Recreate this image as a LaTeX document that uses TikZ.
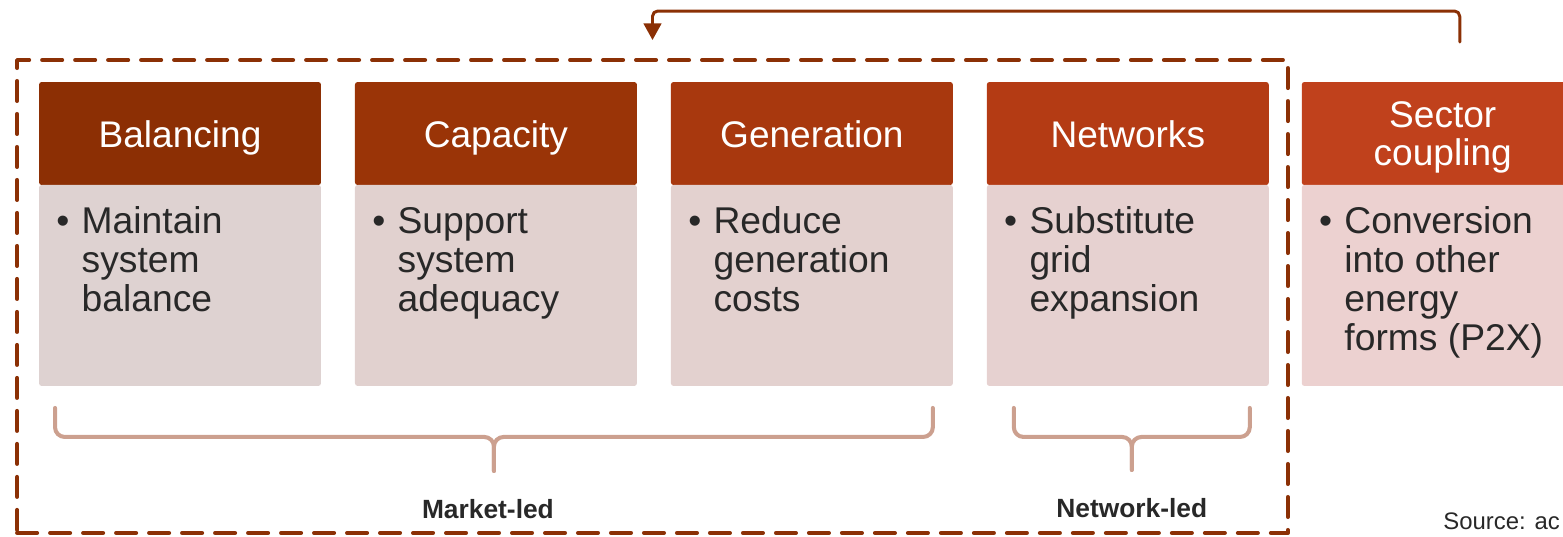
\documentclass[tikz,border=0pt]{standalone}
\usepackage{fontspec}
\setmainfont{Liberation Sans}
\usetikzlibrary{arrows.meta,positioning,calc}

% header fills, dark to light
\definecolor{hdA}{RGB}{140,47,4}
\definecolor{hdB}{RGB}{154,52,7}
\definecolor{hdC}{RGB}{168,56,14}
\definecolor{hdD}{RGB}{180,59,20}
\definecolor{hdE}{RGB}{192,65,28}
% body fills
\definecolor{bdA}{RGB}{222,210,209}
\definecolor{bdB}{RGB}{225,209,207}
\definecolor{bdC}{RGB}{227,209,207}
\definecolor{bdD}{RGB}{230,209,208}
\definecolor{bdE}{RGB}{236,209,208}
\definecolor{rust}{RGB}{139,48,5}
\definecolor{tan}{RGB}{204,160,143}
\definecolor{ink}{RGB}{40,40,40}

% bullet with hanging lines
\newcommand{\bulletlist}[1]{%
  \begin{tabular}{@{}l@{\hspace{7pt}}l@{}}\textbullet & #1\end{tabular}}

\tikzset{
  head/.style={fill=#1, text=white, inner sep=0pt, outer sep=0pt, align=center,
    minimum width=5.64cm, minimum height=2.06cm, rounded corners=1.5pt,
    font=\fontsize{21.1}{21.5}\selectfont},
  headline/.style={text height=16.5pt, text depth=0pt},
  body/.style={fill=#1, anchor=north, inner sep=0pt, outer sep=0pt,
    minimum width=5.64cm, minimum height=4.02cm, rounded corners=1.5pt},
  bullets/.style={anchor=north west, inner sep=0pt, text=ink,
    font=\fontsize{21.2}{22.1}\selectfont},
  brace/.style={draw=tan, line width=2.3pt, rounded corners=5.5pt},
  lbl/.style={text=ink, inner sep=0pt, font=\fontsize{15}{16}\selectfont\bfseries},
}

\begin{document}
\begin{tikzpicture}[
    x=0.02cm, y=-0.02cm,    % one unit per pixel, y running down
    line cap=round,
    line join=round,
    >=Latex,
    node distance=0.68cm
]

\useasboundingbox (0,0) rectangle (1563,537);

%-----------------------
% 1) HEADERS
%-----------------------
\node[head=hdA, headline] (bal-head) at (180,133.5) {Balancing};
\node[head=hdB, headline, right=of bal-head] (cap-head) {Capacity};
\node[head=hdC, headline, right=of cap-head] (gen-head) {Generation};
\node[head=hdD, headline, right=of gen-head] (net-head) {Networks};
\node[head=hdE, right=0.66cm of net-head] (sec-head) {\rule{0pt}{19.5pt}Sector\\coupling};

%-----------------------
% 2) BODIES
%-----------------------
\node[body=bdA] (bal-body) at (bal-head.south) {};
\node[body=bdB] (cap-body) at (cap-head.south) {};
\node[body=bdC] (gen-body) at (gen-head.south) {};
\node[body=bdD] (net-body) at (net-head.south) {};
\node[body=bdE] (sec-body) at (sec-head.south) {};

% bullet texts
\node[bullets, below right=0.42cm and 0.34cm of bal-body.north west] (bal-txt)
  {\bulletlist{Maintain\\&system\\&balance}};
\node[bullets, below right=0.42cm and 0.34cm of cap-body.north west] (cap-txt)
  {\bulletlist{Support\\&system\\&adequacy}};
\node[bullets, below right=0.42cm and 0.34cm of gen-body.north west] (gen-txt)
  {\bulletlist{Reduce\\&generation\\&costs}};
\node[bullets, below right=0.42cm and 0.34cm of net-body.north west] (net-txt)
  {\bulletlist{Substitute\\&grid\\&expansion}};
\node[bullets, below right=0.42cm and 0.34cm of sec-body.north west] (sec-txt)
  {\bulletlist{Conversion\\&into other\\&energy\\&forms (P2X)}};

%-----------------------
% 3) DASHED GROUP FRAME
%-----------------------
\node[draw=rust, line width=2.3pt, dash pattern=on 0.4cm off 0.26cm,
  minimum width=25.42cm, minimum height=9.46cm, inner sep=0pt] (grp) at (652.5,296.5) {};

% feedback from sector coupling back into the group
\coordinate (fb-from) at ($(sec-head.north)+(17,-40)$);
\coordinate (fb-to) at ($(grp.north)+(0,-18)$);
\draw[rust, line width=1.7pt, rounded corners=3pt, -{Triangle[width=10pt,length=9.5pt]}]
  (fb-from) -- ++(0,-31) -| (fb-to);

%-----------------------
% 4) BRACES AND LABELS
%-----------------------
\coordinate (mkt-l) at ($(bal-body.south west)+(16,22)$);
\coordinate (mkt-r) at ($(gen-body.south east)+(-20,22)$);
\coordinate (mkt-mid) at ($(mkt-l)!0.5!(mkt-r)+(0,29)$);
\coordinate (mkt-tip) at ($(mkt-mid)+(0,34)$);
\draw[brace] (mkt-l) |- (mkt-mid) -- (mkt-tip);
\draw[brace] (mkt-r) |- (mkt-mid) -- (mkt-tip);

\coordinate (net-l) at ($(net-body.south west)+(27,22)$);
\coordinate (net-r) at ($(net-body.south east)+(-19,22)$);
\coordinate (net-mid) at ($(net-l)!0.5!(net-r)+(0,29)$);
\coordinate (net-tip) at ($(net-mid)+(0,33)$);
\draw[brace] (net-l) |- (net-mid) -- (net-tip);
\draw[brace] (net-r) |- (net-mid) -- (net-tip);

\node[lbl, below=0.56cm of mkt-tip, xshift=-0.12cm] (mkt-lbl) {Market-led};
\node[lbl, below=0.56cm of net-tip] (net-lbl) {Network-led};

% source note, runs off the right edge
\node[text=ink, inner sep=0pt, anchor=base west, font=\fontsize{13.6}{15}\selectfont]
  (src) at (1443,529) {Source: ac};

\end{tikzpicture}
\end{document}
